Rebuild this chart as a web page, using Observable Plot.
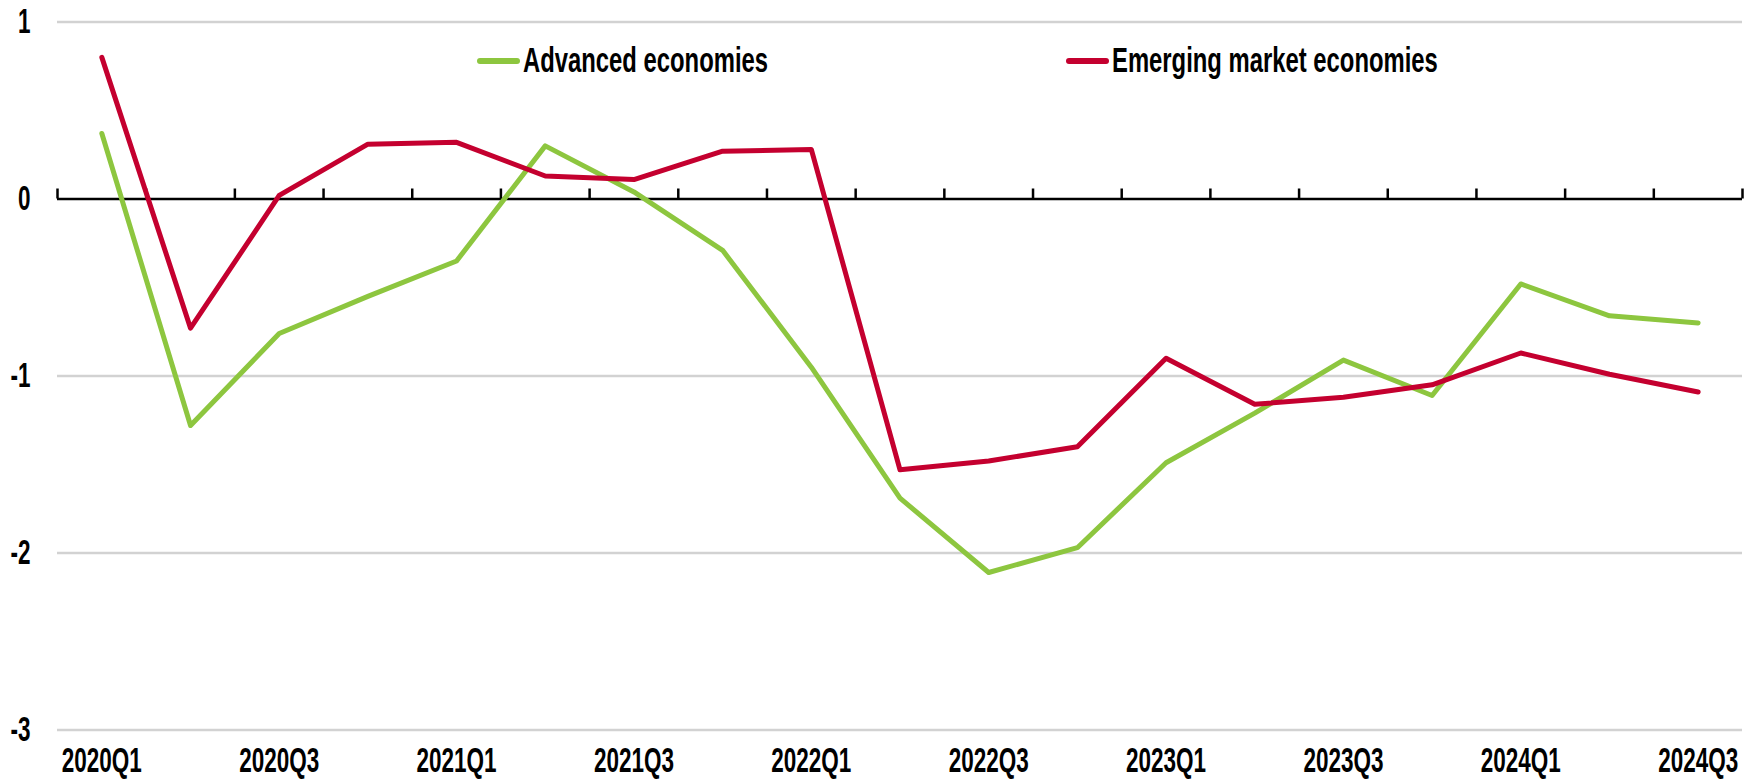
<!DOCTYPE html>
<html>
<head>
<meta charset="utf-8">
<script src="https://cdn.jsdelivr.net/npm/d3@7"></script>
<script src="https://cdn.jsdelivr.net/npm/@observablehq/plot@0.6"></script>
<style>
  html, body { margin: 0; padding: 0; background: #fff; }
  #wrap { position: relative; width: 1764px; height: 780px; overflow: hidden; }
  .lg { position: absolute; top: 42px; height: 40px; font-family: "Liberation Sans Narrow", "Arial Narrow", "Liberation Sans", Arial, sans-serif; font-weight: bold; font-size: 35px; line-height: 35px; color: #000; white-space: nowrap; }
  .lg .sw { position: absolute; left: 0; top: 16px; width: 43px; height: 6px; border-radius: 3px; }
  .lg .tx { position: absolute; left: 46px; top: 0; transform-origin: 0 0; }
</style>
</head>
<body>
<div id="wrap"></div>
<script>
const quarters = ["2020Q1","2020Q2","2020Q3","2020Q4","2021Q1","2021Q2","2021Q3","2021Q4",
                  "2022Q1","2022Q2","2022Q3","2022Q4","2023Q1","2023Q2","2023Q3","2023Q4",
                  "2024Q1","2024Q2","2024Q3"];
const advanced = [0.37,-1.28,-0.76,-0.55,-0.35,0.30,0.04,-0.29,-0.95,-1.69,-2.11,-1.97,-1.49,-1.21,-0.91,-1.11,-0.48,-0.66,-0.70];
const emerging = [0.80,-0.73,0.02,0.31,0.32,0.13,0.11,0.27,0.28,-1.53,-1.48,-1.40,-0.90,-1.16,-1.12,-1.05,-0.87,-0.99,-1.09];
const yTicks = [1, 0, -1, -2, -3];
const seriesNames = ["Advanced economies", "Emerging market economies"];
const seriesColors = ["#8dc63f", "#c4002f"];

const FONT = '"Liberation Sans Narrow", "Arial Narrow", "Liberation Sans", Arial, sans-serif';

const idx = d3.range(quarters.length);
const rows = [
  ...idx.map(i => ({i, v: advanced[i], s: seriesNames[0]})),
  ...idx.map(i => ({i, v: emerging[i], s: seriesNames[1]}))
];
const boundaries = d3.range(quarters.length + 1).map(i => i - 0.5);
const labelIdx = d3.range(0, quarters.length, 2);

const chart = Plot.plot({
  width: 1764,
  height: 780,
  marginLeft: 57,
  marginRight: 22,
  marginTop: 21.5,
  marginBottom: 50.5,
  style: { fontFamily: FONT, fontSize: "35px", fontWeight: "bold", color: "#000", background: "#fff" },
  x: { domain: [-0.5, quarters.length - 0.5] },
  y: { domain: [-3, 1] },
  color: { domain: seriesNames, range: seriesColors },
  marks: [
    Plot.ruleY(yTicks.filter(t => t !== 0), { stroke: "#d2d2d2", strokeWidth: 2.5 }),
    Plot.ruleY([0], { stroke: "#000", strokeWidth: 2.5 }),
    Plot.ruleX(boundaries, { x: d => d, y1: 0, y2: 0, insetTop: -10, stroke: "#000", strokeWidth: 2.5 }),
    Plot.line(rows.filter(d => d.s === seriesNames[0]), { x: "i", y: "v", stroke: "s", strokeWidth: 5, strokeLinejoin: "round", strokeLinecap: "round" }),
    Plot.line(rows.filter(d => d.s === seriesNames[1]), { x: "i", y: "v", stroke: "s", strokeWidth: 5, strokeLinejoin: "round", strokeLinecap: "round" }),
    Plot.axisY({ ticks: yTicks, tickSize: 0, tickPadding: 27, tickFormat: d => String(d), label: null }),
    Plot.axisX({ ticks: labelIdx, tickSize: 0, tickPadding: 17, tickFormat: i => quarters[i], label: null })
  ]
});

const wrap = document.getElementById("wrap");
wrap.appendChild(chart);

// condense text horizontally (reference uses a very narrow bold face)
const canvas = document.createElement("canvas");
const ctx = canvas.getContext("2d");
ctx.font = `bold 35px ${FONT}`;
const k = 80 / ctx.measureText("2020Q1").width;

d3.select(chart).selectAll("text").each(function () {
  const w = this.getComputedTextLength();
  this.setAttribute("textLength", (w * k).toFixed(2));
  this.setAttribute("lengthAdjust", "spacingAndGlyphs");
});

// legend
const legendLeft = [477, 1066];
seriesNames.forEach((name, j) => {
  const item = document.createElement("div");
  item.className = "lg";
  item.style.left = legendLeft[j] + "px";
  const sw = document.createElement("div");
  sw.className = "sw";
  sw.style.background = seriesColors[j];
  const tx = document.createElement("span");
  tx.className = "tx";
  tx.textContent = name;
  tx.style.transform = `scaleX(${(k * 1.06).toFixed(3)})`;
  item.appendChild(sw);
  item.appendChild(tx);
  wrap.appendChild(item);
});
</script>
</body>
</html>
